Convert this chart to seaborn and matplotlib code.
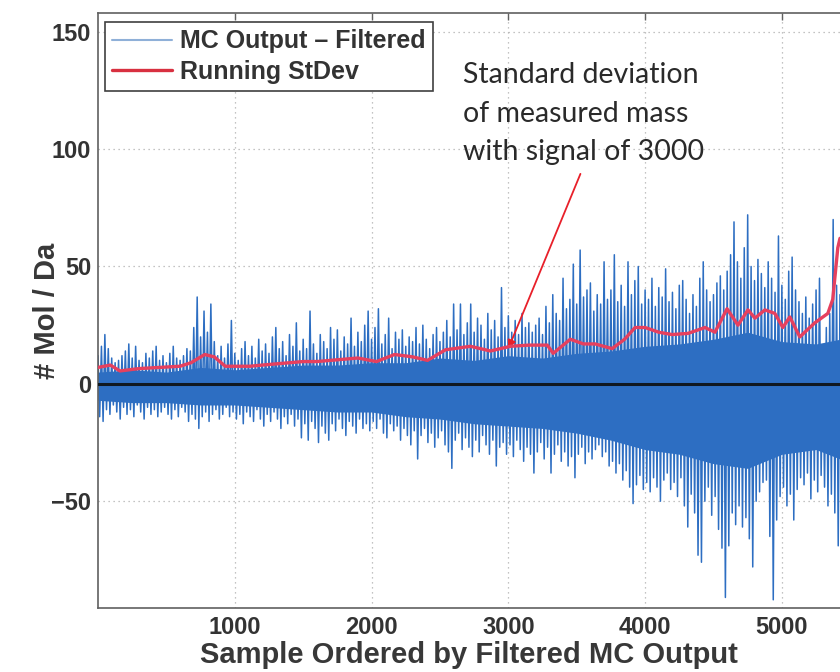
import numpy as np
import pandas as pd
import seaborn as sns
import matplotlib.pyplot as plt

# Data
# ---------------------------------------------------------------------
# blue trace: peak values every 25 samples (upper excursions, lower excursions)
sample_pos = np.arange(0, 5426, 25)

upper_peaks = [
    12, 16, 21, 15, 11, 9, 10, 12, 14, 17, 11, 16, 10, 9, 13, 11, 14, 16, 10, 12,
    9, 13, 16, 11, 10, 12, 15, 14, 24, 37, 20, 31, 22, 34, 18, 12, 16, 11, 17, 27,
    13, 10, 15, 18, 12, 16, 11, 19, 14, 17, 13, 20, 24, 15, 18, 12, 21, 16, 26, 14,
    19, 15, 31, 17, 13, 21, 18, 15, 24, 19, 23, 14, 20, 17, 28, 16, 22, 18, 25, 31,
    19, 24, 32, 17, 21, 28, 15, 22, 19, 23, 16, 20, 18, 24, 17, 25, 19, 15, 21, 24,
    18, 22, 27, 20, 34, 23, 34, 21, 26, 34, 22, 28, 25, 19, 30, 23, 27, 20, 41, 24,
    29, 22, 27, 21, 30, 24, 26, 22, 25, 28, 21, 33, 26, 38, 30, 27, 45, 32, 36, 51,
    34, 57, 37, 40, 43, 31, 38, 34, 52, 36, 40, 55, 35, 42, 33, 52, 38, 44, 50, 34,
    40, 36, 45, 33, 41, 37, 49, 35, 39, 32, 42, 44, 36, 30, 38, 33, 45, 52, 40, 35,
    38, 43, 46, 40, 48, 55, 69, 52, 45, 58, 72, 50, 44, 53, 47, 41, 52, 45, 39, 63,
    42, 36, 48, 54, 40, 35, 30, 37, 28, 34, 40, 45, 12, 24, 30, 70, 42, 38,
]

lower_peaks = [
    -14, -16, -11, -13, -9, -12, -15, -10, -13, -11, -14, -9, -12, -15, -10, -13, -11, -14, -12, -10,
    -13, -15, -11, -14, -10, -12, -16, -13, -15, -19, -14, -12, -16, -13, -11, -15, -13, -10, -14, -12,
    -15, -13, -17, -12, -14, -16, -11, -15, -18, -13, -16, -12, -15, -19, -14, -17, -13, -18, -15, -23,
    -17, -24, -16, -19, -25, -18, -21, -24, -17, -20, -15, -19, -22, -16, -18, -21, -15, -19, -17, -20,
    -16, -19, -15, -21, -23, -17, -20, -18, -24, -19, -22, -26, -20, -32, -22, -19, -25, -21, -27, -23,
    -20, -26, -29, -36, -24, -21, -28, -23, -27, -31, -24, -29, -22, -26, -30, -24, -35, -27, -25, -30,
    -26, -31, -24, -28, -33, -27, -30, -38, -29, -25, -32, -27, -38, -30, -26, -33, -29, -35, -31, -40,
    -30, -27, -34, -29, -32, -28, -26, -31, -29, -35, -33, -38, -34, -41, -37, -44, -51, -43, -39, -45,
    -42, -46, -40, -44, -50, -41, -38, -45, -42, -48, -40, -52, -61, -47, -55, -73, -76, -50, -44, -56,
    -48, -62, -70, -91, -69, -55, -60, -52, -61, -57, -66, -78, -50, -46, -42, -41, -65, -92, -58, -48,
    -44, -52, -47, -58, -45, -40, -43, -38, -49, -41, -46, -39, -44, -52, -47, -55, -69, -60,
]

# dense (solid) part of the blue trace around zero
core_pos = [0, 250, 500, 750, 1000, 1250, 1500, 1750, 2000, 2250, 2500, 2750, 3000,
            3250, 3500, 3750, 4000, 4250, 4500, 4750, 5000, 5250, 5425]
core_upper = [5, 6, 5, 7, 6, 7, 8, 8, 9, 9, 11, 10, 12, 11, 13, 14, 16, 17, 19, 22, 18, 17, 19]
core_lower = [-7, -8, -8, -9, -9, -10, -11, -12, -12, -14, -15, -17, -18, -19, -21, -24,
              -28, -30, -34, -36, -30, -28, -32]

# running standard deviation (red)
stdev_pos = [0, 90, 160, 300, 450, 600, 680, 780, 850, 930, 1000, 1110, 1200, 1300,
             1400, 1500, 1600, 1700, 1800, 1900, 2036, 2168, 2300, 2409, 2540, 2723,
             2869, 3015, 3150, 3285, 3328, 3453, 3550, 3635, 3759, 3850, 3927, 4000,
             4100, 4197, 4314, 4438, 4511, 4599, 4679, 4752, 4803, 4876, 4949, 5007,
             5058, 5131, 5241, 5336, 5372, 5409, 5425]
stdev_val = [7, 8, 5.5, 6.5, 7, 7.5, 9, 12.5, 11.5, 7.5, 7.5, 7.5, 8, 8.5,
             9, 9.5, 9.5, 10, 10.5, 11, 9.5, 12.5, 11.5, 10, 14.5, 16,
             14, 16, 16.5, 16.5, 13, 19, 17, 17, 15, 19, 24, 24,
             22, 21, 21.5, 24, 22, 32, 25, 31.5, 28, 31.5, 30, 24,
             28.5, 20, 26, 30, 36, 58, 62]

x_ticks = [1000, 2000, 3000, 4000, 5000]
y_ticks = [-50, 0, 50, 100, 150]

# build the blue trace: up at each sample, down half a step later
trace = pd.DataFrame({
    'Sample': np.column_stack([sample_pos, sample_pos + 12]).ravel(),
    'Value': np.column_stack([upper_peaks, lower_peaks]).ravel(),
})
df_std = pd.DataFrame({'Sample': stdev_pos, 'StDev': stdev_val})

# Plotting
# ---------------------------------------------------------------------
sns.set_style('white')
plt.rcParams['font.family'] = ['Liberation Sans', 'DejaVu Sans']

blue = '#2d6ec2'
fig = plt.figure(figsize=(8.4, 6.72), dpi=100)
ax = fig.add_axes([0.1167, 0.0952, 0.8833, 0.8855])

ax.fill_between(core_pos, core_lower, core_upper, color=blue, lw=0, zorder=2)
sns.lineplot(data=trace, x='Sample', y='Value', ax=ax, color=blue, lw=1.1,
             estimator=None, sort=False, label='MC Output \u2013 Filtered', zorder=2)
ax.axhline(0, color='#101820', lw=2.2, zorder=3)
sns.lineplot(data=df_std, x='Sample', y='StDev', ax=ax, color='#e6405e', lw=2.4,
             estimator=None, label='Running StDev', zorder=4)

ax.set_xlim(0, 5425)
ax.set_ylim(-95.5, 158)
ax.set_xticks(x_ticks)
ax.set_yticks(y_ticks)
ax.grid(True, linestyle=(0, (1, 3)), color='#b0b0b0', lw=0.9)
ax.set_axisbelow(True)

for side in ['left', 'bottom', 'top']:
    ax.spines[side].set_color('#606060')
    ax.spines[side].set_linewidth(1.2)
ax.spines['right'].set_visible(False)
ax.tick_params(axis='both', direction='in', length=5, width=1, color='#606060',
               labelsize=17, labelcolor='#333333')
ax.tick_params(axis='x', top=True, pad=6)
ax.tick_params(axis='y', pad=5)
for lab in ax.get_xticklabels() + ax.get_yticklabels():
    lab.set_fontweight('bold')

ax.set_xlabel('Sample Ordered by Filtered MC Output', fontsize=21, fontweight='bold',
              color='#383838', labelpad=1)
ax.set_ylabel('# Mol / Da', fontsize=21, fontweight='bold', color='#383838', labelpad=-7)

leg = ax.legend(loc='upper left', bbox_to_anchor=(0.009, 0.985), frameon=True,
                fancybox=False, edgecolor='#404040', framealpha=1, handlelength=2.4,
                handletextpad=0.3, borderpad=0.3, labelspacing=0.25, borderaxespad=0,
                prop={'weight': 'bold', 'size': 18})
leg.get_frame().set_linewidth(1.2)
for t in leg.get_texts():
    t.set_color('#333333')
leg.get_lines()[0].set_color('#8fb0d8')
leg.get_lines()[0].set_linewidth(1.5)
leg.get_lines()[1].set_color('#d83040')

ax.annotate('Standard deviation\nof measured mass\nwith signal of 3000',
            xy=(3000, 15), xytext=(2671, 137), textcoords='data',
            ha='left', va='top', fontsize=20.5, family=['Lato', 'DejaVu Sans'],
            color='#2a2a2a', linespacing=1.6,
            arrowprops=dict(arrowstyle='-|>', color='#e8202a', lw=1.3,
                            mutation_scale=12, shrinkA=4, shrinkB=0,
                            relpos=(0.5, 0.0)))

plt.savefig('out.png', dpi=100)
